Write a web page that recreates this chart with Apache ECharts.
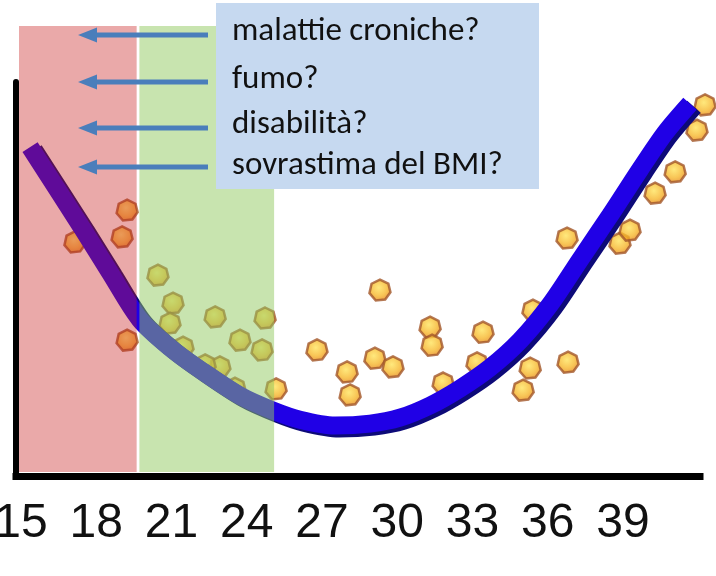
<!DOCTYPE html>
<html>
<head>
<meta charset="utf-8">
<script src="https://cdn.jsdelivr.net/npm/echarts@6/dist/echarts.min.js"></script>
<style>
html,body{margin:0;padding:0;background:#fff;}
#c{width:716px;height:576px;}
</style>
</head>
<body>
<div id="c"></div>
<script>
// ---- data ----
const tickValues = [15, 18, 21, 24, 27, 30, 33, 36, 39];

const curveBMI  = [15.36, 17.43, 18.55, 19.74, 20.94, 22.14, 23.73, 25.05, 26.12, 27.52, 28.92, 30.11, 31.31, 32.50, 33.70, 34.90, 36.09, 37.29, 38.48, 39.68, 40.68, 41.67];
const curveRisk = [83.5, 63.0, 51.6, 39.7, 32.6, 27.0, 20.4, 16.6, 14.3, 12.8, 13.3, 14.8, 17.9, 22.2, 27.5, 34.4, 43.5, 54.9, 66.1, 77.8, 87.1, 94.5];

const pointBMI  = [19.23, 19.03, 17.15, 19.23, 20.46, 21.06, 20.94, 21.46, 22.74, 24.73, 23.73, 24.61, 22.93, 22.34, 23.53, 25.17,
                   29.31, 26.80, 28.00, 28.12, 29.11, 29.83, 31.31, 31.39, 31.83, 33.42, 33.18, 35.41, 35.30, 35.02, 36.81, 36.77,
                   38.88, 39.28, 40.28, 41.08, 41.95, 42.27];
const pointRisk = [67.5, 60.7, 59.4, 34.5, 51.0, 43.9, 38.8, 32.7, 40.4, 40.1, 34.5, 32.0, 27.7, 28.2, 22.3, 22.1,
                   47.2, 32.0, 26.4, 20.6, 29.9, 27.7, 37.8, 33.2, 23.6, 36.5, 28.7, 42.1, 27.4, 21.8, 28.9, 60.4,
                   59.1, 62.4, 71.8, 77.2, 87.8, 94.2];

const bandStart = [14.92, 19.72];
const bandEnd   = [19.61, 25.09];

const noteLines = ['malattie croniche?', 'fumo?', 'disabilità?', 'sovrastima del BMI?'];

// ---- styles ----
const bandColors = ['rgba(200,28,28,0.38)', 'rgba(146,202,96,0.5)'];
const X_MIN = 14.8, X_MAX = 42.07;

const chart = echarts.init(document.getElementById('c'), null, {renderer: 'canvas'});

const noteCenters = [32, 80, 125, 166];
const arrowY = [35, 82, 128, 167];
const fs = 33;

const graphics = [
  {type: 'rect', shape: {x: 216, y: 3, width: 323, height: 186}, style: {fill: '#c6d9f0'}, z: 20}
];
noteLines.forEach((t, i) => {
  graphics.push({
    type: 'text', z: 21,
    x: 232, y: noteCenters[i],
    style: {text: t, fill: '#111', font: fs + 'px Carlito, Lato, sans-serif', verticalAlign: 'middle', align: 'left'}
  });
});
arrowY.forEach((y) => {
  graphics.push({type: 'rect', z: 21, shape: {x: 94, y: y - 2.5, width: 114, height: 5}, style: {fill: '#4a7ebb'}});
  graphics.push({type: 'polygon', z: 21, shape: {points: [[78, y], [97, y - 7.5], [97, y + 7.5]]}, style: {fill: '#4a7ebb'}});
});

const option = {
  animation: false,
  backgroundColor: '#fff',
  grid: [
    {left: 16, right: 16, top: 82, bottom: 100, outerBoundsMode: 'none', containLabel: false},
    {left: 16, right: 16, top: 26, bottom: 104, outerBoundsMode: 'none', containLabel: false}
  ],
  xAxis: [
    {
      type: 'value', gridIndex: 0, min: X_MIN, max: X_MAX,
      axisLine: {show: true, lineStyle: {color: '#000', width: 7, cap: 'square'}},
      axisTick: {show: false},
      splitLine: {show: false},
      axisLabel: {
        customValues: tickValues,
        margin: 24,
        color: '#111',
        fontSize: 48,
        fontFamily: '"Liberation Sans", Arial, sans-serif',
        formatter: (v) => String(v)
      }
    },
    {type: 'value', gridIndex: 1, min: X_MIN, max: X_MAX, show: false}
  ],
  yAxis: [
    {
      type: 'value', gridIndex: 0, min: 0, max: 100,
      axisLine: {show: true, lineStyle: {color: '#000', width: 6}},
      axisTick: {show: false}, axisLabel: {show: false}, splitLine: {show: false}
    },
    {type: 'value', gridIndex: 1, min: 0, max: 1, show: false}
  ],
  series: [
    {
      type: 'scatter', xAxisIndex: 0, yAxisIndex: 0, z: 2, clip: false,
      data: pointBMI.map((x, i) => [x, pointRisk[i]]),
      symbol: 'path://M10,0 L18,4 L20,12 L15,19 L6,20 L0,13 L2,4 Z',
      symbolSize: 21,
      itemStyle: {
        color: {type: 'radial', x: 0.45, y: 0.4, r: 0.6, colorStops: [
          {offset: 0, color: '#ffe35c'}, {offset: 0.6, color: '#f6b62b'}, {offset: 1, color: '#e5841c'}]},
        borderColor: '#a3572a', borderWidth: 2.5
      }
    },
    {
      type: 'line', xAxisIndex: 0, yAxisIndex: 0, z: 3,
      data: curveBMI.map((x, i) => [x, curveRisk[i]]),
      smooth: 0.3, showSymbol: false, symbol: 'none',
      lineStyle: {color: '#2000e6', width: 18, shadowColor: '#0d0a78', shadowOffsetX: 4, shadowOffsetY: 3, shadowBlur: 0, cap: 'butt'}
    },
    {
      type: 'custom', xAxisIndex: 1, yAxisIndex: 1, z: 10, silent: true,
      data: bandStart.map((s, i) => [s, bandEnd[i]]),
      encode: {x: [0, 1]},
      renderItem: (params, api) => {
        const p0 = api.coord([api.value(0), 1]);
        const p1 = api.coord([api.value(1), 0]);
        return {type: 'rect', shape: {x: p0[0], y: p0[1], width: p1[0] - p0[0], height: p1[1] - p0[1]},
                style: {fill: bandColors[params.dataIndex]}};
      }
    }
  ],
  graphic: graphics
};
chart.setOption(option);
</script>
</body>
</html>
